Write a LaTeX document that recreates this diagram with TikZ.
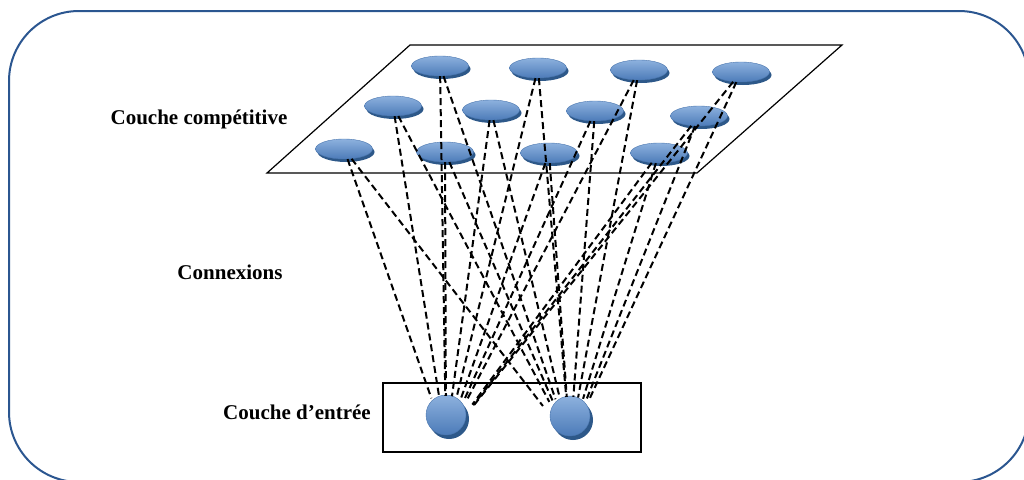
\documentclass[tikz,border=0pt]{standalone}
\usepackage{fontspec}
\setmainfont{Liberation Serif}
\usetikzlibrary{shapes.geometric,shadows}
\definecolor{framecol}{HTML}{2B5690}
\definecolor{nodetop}{HTML}{8DB1DE}
\definecolor{nodemid}{HTML}{6390CA}
\definecolor{nodebot}{HTML}{4C7BB8}
\definecolor{nodeedge}{HTML}{4A76AE}
\definecolor{nodeshadow}{HTML}{2D5889}

\begin{document}
\begin{tikzpicture}[x=1pt,y=-1pt,
  compnode/.style={ellipse, minimum width=57pt, minimum height=20pt, inner sep=0pt,
    top color=nodetop, middle color=nodemid, bottom color=nodebot, draw=nodeedge, line width=0.4pt,
    copy shadow={shadow xshift=2pt, shadow yshift=-3pt, fill=nodeshadow, draw=none}},
  innode/.style={circle, minimum size=40pt, inner sep=0pt,
    top color=nodetop, middle color=nodemid, bottom color=nodebot, draw=nodeedge, line width=0.4pt,
    copy shadow={shadow xshift=3pt, shadow yshift=-4pt, fill=nodeshadow, draw=none}},
  % invisible target ring: links stop on the upper arc of an input neuron
  aim/.style={circle, minimum size=88pt, inner sep=0pt},
  link/.style={dash pattern=on 7pt off 4pt, line width=2pt},
  layer/.style={draw, line width=1.2pt},
  lbl/.style={font=\fontsize{21}{25}\selectfont\bfseries}
]
\useasboundingbox (0,0) rectangle (1024,479);

% outer frame
\draw[framecol, line width=2pt, rounded corners=70pt] (9,11) rectangle (1029,482);

% competitive layer plane
\coordinate (p1) at (410,45);
\coordinate (p2) at (842,45);
\coordinate (p3) at (697,173);
\coordinate (p4) at (267,173);
\draw[line width=1.2pt, line join=miter] (p1) -- (p2) -- (p3) -- (p4) -- cycle;

% competitive neurons
\node[compnode] (c1)  at (440,66)  {};
\node[compnode] (c2)  at (538,68)  {};
\node[compnode] (c3)  at (639,70)  {};
\node[compnode] (c4)  at (741,72)  {};
\node[compnode] (c5)  at (393,106) {};
\node[compnode] (c6)  at (491,110) {};
\node[compnode] (c7)  at (595,111) {};
\node[compnode] (c8)  at (699,116) {};
\node[compnode] (c9)  at (344,149) {};
\node[compnode] (c10) at (445,152) {};
\node[compnode] (c11) at (549,153) {};
\node[compnode] (c12) at (659,153) {};

% input layer
\node[layer, minimum width=258pt, minimum height=69pt, inner sep=0pt] (inbox) at (512,417.5) {};
\node[innode] (i1) at (446,415) {};
\node[innode] (i2) at (570,416) {};
\node[aim] (a1) at (446,440) {};
\node[aim] (a2) at (570,441) {};

% connections
\foreach \c in {c1,c2,c3,c4,c5,c6,c7,c8,c9,c10,c11,c12} {
  \draw[link] (\c) -- (a1);
  \draw[link] (\c) -- (a2);
}

% labels
\node[lbl] (lcomp) at (199,119) {Couche compétitive};
\node[lbl] (lconn) at (230,272) {Connexions};
\node[lbl] (lin)   at (297,412) {Couche d’entrée};
\end{tikzpicture}
\end{document}
